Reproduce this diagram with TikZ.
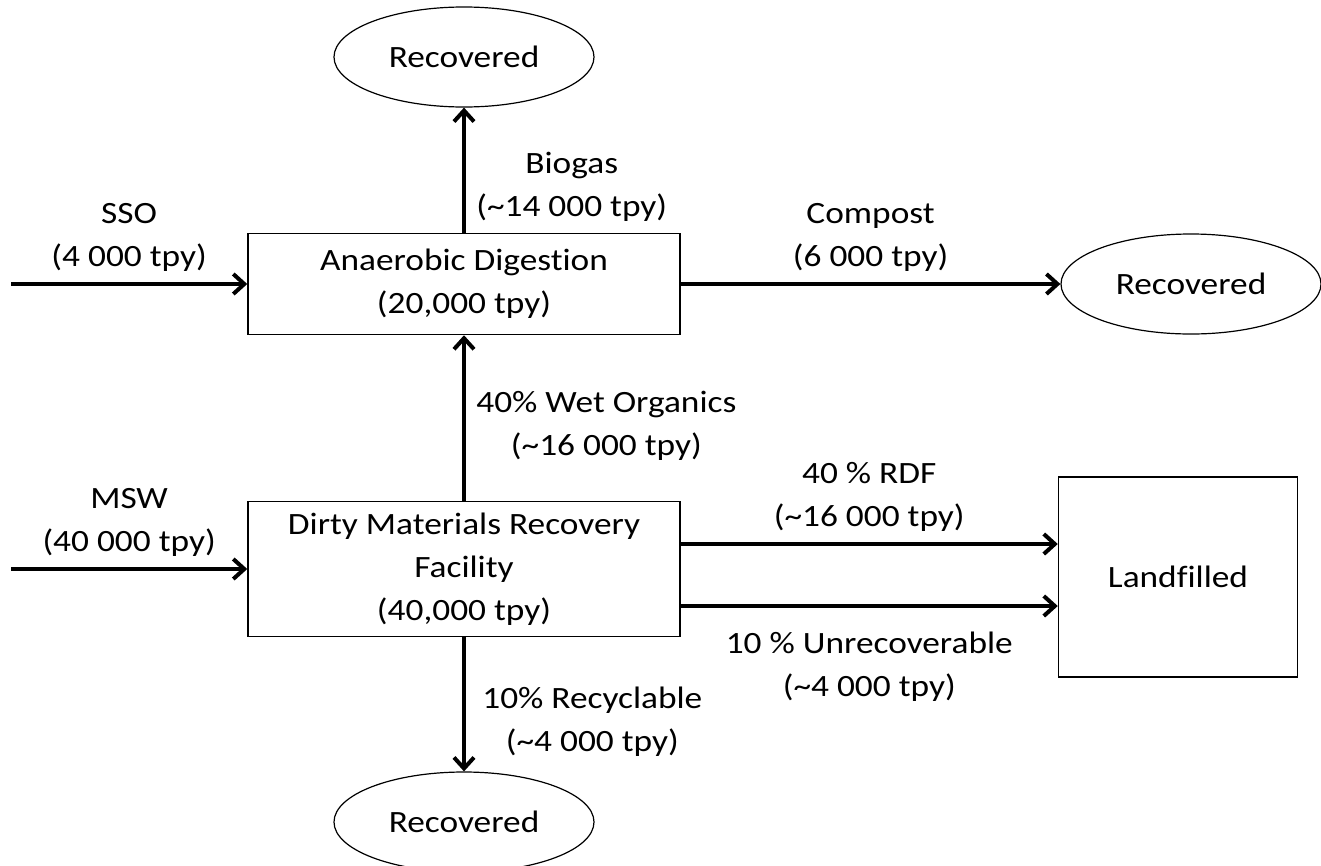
\documentclass[tikz,border=0pt]{standalone}
\usepackage{fontspec}
\setmainfont{Carlito}[FakeStretch=1.14, Ligatures=NoCommon]
\usetikzlibrary{arrows.meta, shapes.geometric}

\begin{document}
\begin{tikzpicture}[x=1pt, y=-1pt, ->, >={Straight Barb[length=11pt, width=20pt]}, line width=4pt,
    box/.style={draw, rectangle, line width=1.5pt, minimum width=432pt, align=center},
    goal/.style={draw, ellipse, line width=1.2pt, minimum width=260pt, minimum height=100pt},
    flow/.style={align=center}]
    \fontsize{31}{43}\selectfont
    %
    \useasboundingbox (0,0) rectangle (1321,865);
    \node [box, minimum height=101pt] (ad) at (464,284) {Anaerobic Digestion\\(20,000 tpy)};
    \node [box, minimum height=135pt, below of=ad, node distance=285pt] (dmrf) {Dirty Materials Recovery\\Facility\\(40,000 tpy)};
    \node [goal, above of=ad, node distance=227pt] (rtop) {Recovered};
    \node [goal, right of=ad, node distance=727pt] (rright) {Recovered};
    \node [goal, below of=dmrf, node distance=253pt] (rbot) {Recovered};
    \node [box, minimum width=239pt, minimum height=200pt, right of=dmrf, node distance=714pt, yshift=-8pt] (lf) {Landfilled};
    \coordinate (sso) at (11,284);
    \coordinate (msw) at (11,569);
    %
    \path (sso) edge node[flow, above] {SSO\\(4 000 tpy)} (ad);
    \path (msw) edge node[flow, above] {MSW\\(40 000 tpy)} (dmrf);
    \path (ad) edge node[flow, right, pos=0.37] {Biogas\\(\textasciitilde14 000 tpy)} (rtop);
    \path (ad) edge node[flow, above] {Compost\\(6 000 tpy)} (rright);
    \path (dmrf) edge node[flow, right, pos=0.45] {40\% Wet Organics\\(\textasciitilde16 000 tpy)} (ad);
    \path (dmrf) edge node[flow, right, pos=0.63, xshift=6pt] {10\% Recyclable\\(\textasciitilde4 000 tpy)} (rbot);
    \path ([yshift=25pt]dmrf.east) edge node[flow, above] {40 \% RDF\\(\textasciitilde16 000 tpy)} ([yshift=25pt]dmrf.east -| lf.west);
    \path ([yshift=-37pt]dmrf.east) edge node[flow, below=14pt] {10 \% Unrecoverable\\(\textasciitilde4 000 tpy)} ([yshift=-37pt]dmrf.east -| lf.west);
\end{tikzpicture}
\end{document}
